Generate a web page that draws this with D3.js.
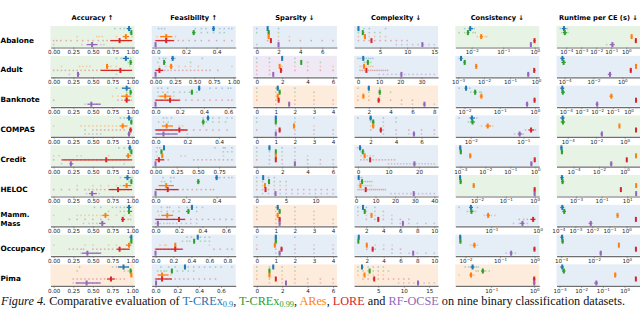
<!DOCTYPE html>
<html>
<head>
<meta charset="utf-8">
<script src="https://cdn.jsdelivr.net/npm/d3@7"></script>
<style>
  body { margin: 0; background: #fff; }
  svg { display: block; }
</style>
</head>
<body>
<svg id="chart" width="640" height="310"></svg>
<script>
// ---- data ----
const datasets = ["Abalone", "Adult", "Banknote", "COMPAS", "Credit", "HELOC", "Mamm.\nMass", "Occupancy", "Pima"];
const methods = ["T-CREx0.9", "T-CREx0.99", "ARes", "LORE", "RF-OCSE"];
const metricTitles = ["Accuracy \u2191", "Feasibility \u2191", "Sparsity \u2193", "Complexity \u2193", "Consistency \u2193", "Runtime per CE (s) \u2193"];
const metricLog = [false, false, false, false, true, true];

// each method entry: [mean, low, high, ...individual values]
const accuracy = [
  [[.96,.93,.99,.78,.85,.9], [.99,.98,1,.97], [.92,.88,.96,.3,.55,.58,.62,.8,1], [.84,.72,1,0,.04,.09,.16,.22,.3,.37,.44,.5,.57,.63,.68,.74,.79,.9,.95], [.49,.42,.56,0,.36,.6,.64]],
  [[.92,.88,.96,.8,.86,.98], [.98,.97,1,.95], [.68,.67,.7,.1,.33,.37,.42,.46,.73,.8,.97], [.85,.6,1,0,.05,.1,.15,.2,.25,.3,.35,.4,.45,.5,.55,.6,.65,.7,.75,.8,.9], [.31,.3,.33,.2,.8]],
  [[.93,.87,.98,.8,.88,.95], [.98,.97,1,.93], [.93,.86,.98,.75,.82,.99], [.93,.9,.97,0,.82,.87,.99], [.48,.43,.6,.4,.55]],
  [[.96,.93,.99,.85,.9,1], [.99,.98,1,.98], [.88,.84,.94,0,.35,.4,.45,.5,.55,.6,.65,.7,.75,.8], [.98,.96,1,.4,.5,.55,.6,.65,.7,.75,.8,.85,.9], [.96,.94,.98,.4,.45,.5,.55,.6]],
  [[.97,.95,.99,.83,.9], [.99,.98,1,.97], [.95,.92,.99,0,.07,.3,.35,.7], [.67,.1,1,0,.15,.2,.25,.3,.35,.4,.45,.5,.55,.6,.7,.75,.8,.85,.9], [.22,.2,.25,.1,.9]],
  [[.94,.9,.98,.85,1], [.99,.98,1,.96], [.93,.88,.99,.3,.5,.6,.7,.8,.85], [.82,.7,1,0,.1,.2,.3,.4,.45,.5,.55,.6,.65,.75,.85,.9,.95], [.49,.45,.55,.42,.58]],
  [[.96,.93,.99,.52,.6,.75,.8,.85,.9], [.96,.94,1,.7,.85,.9], [.66,.62,.7,0,.3,.35,.4,.45,.5,.55,.6,.7,.8,.9,.98], [.88,.86,.91,.2,.3,.4,.5,.6,.7,.95,.98], [.62,.58,.66,.38,.45,.5,.55]],
  [[.99,.97,1,.97], [.99,.98,1,.98], [.96,.92,.99,0,.4,.5,.7,.8], [.84,.8,.97,.2,.25,.3,.35,.38,.5,.55,.6,.65,.7,.75,.9], [.43,.36,.6,.35,.4,.5,.55,.6]],
  [[.89,.82,.96,.33,.75,.8,.85,.9,.95], [.98,.97,1,.3,.9,.95], [.99,.98,1,.98], [.73,.68,.78,.25,.3,.35,.4,.45,.5,.55,.6,.65,.8,.85,.9], [.42,.28,.6,.25,.3,.45,.5,.55]]
];
const feasibility = [
  [[.38,.37,.39,.02,.04,.06,.26,.3,.33,.42,.45,.48,.5], [.25,.24,.26,.26,.3,.34,.38,.42,.45], [.07,.03,.11,.01,.13], [.07,0,.12,0,.02,.04,.06,.09,.12,.15,.18,.22,.26,.3,.35,.4,.45,.5], [0,0,.005]],
  [[.22,.2,.24,.05,.1,.13,.25,.6], [.11,.1,.13,.03,.45], [.2,.18,.22,.05,.13,.3,.38,.45,.55,.98], [.05,0,.1,0,.04,.08,.12,.16,.2,.25,.3,.35,.4,.45,.5,.55,.6,.65,.7,.8], [0,0,.01]],
  [[.36,.35,.37,.02,.05,.1,.45,.5,.55,.6,.62], [.3,.29,.31,.02,.06,.1,.15,.2,.24,.28,.34], [.08,.03,.13,.02,.15], [.12,0,.2,0,.05,.1,.15,.2,.25,.3,.35,.4,.45,.5,.55,.6,.63], [0,0,.005]],
  [[.33,.32,.34,.05,.07,.1,.3,.36,.4,.45,.48], [.3,.29,.31,.02,.05,.08,.32,.36,.4,.44], [.07,.04,.11,.15,.17,.3], [.15,0,.2,0,.03,.06,.1,.13,.17,.2,.24,.28,.32,.36,.4,.45], [.05,0,.14,.02,.08,.12,.2]],
  [[.1,.09,.11,.02,.05,.7,.8,.82,.9], [.07,.06,.08,.01,.8,.85,.9], [.08,.07,.09,.02,.3,.35,.8], [.04,0,.1,0,.05,.1,.15,.45,.5,.55,.6,.65,.7,.75,.8,.85,.9], [0,0,.005]],
  [[.4,.39,.41,.05,.1,.12,.42,.45,.48,.5], [.28,.27,.29,.04,.06,.1], [.07,.02,.12], [.08,0,.15,0,.03,.06,.09,.12,.15,.18,.21,.24,.27,.3,.33,.36,.38], [0,0,.005]],
  [[.31,.3,.32,.05,.1,.12,.2,.27,.35,.4], [.28,.26,.29,.02,.05,.1,.15,.2,.35], [.1,.05,.15,.03,.12], [.2,0,.25,0,.05,.1,.15,.25,.3,.35,.4,.45,.5,.55,.6,.65], [.02,.01,.03,0,.04,.07,.1,.12,.15,.18,.22,.26,.3,.35]],
  [[.47,.46,.48,.35,.4,.5,.55,.6], [.43,.42,.44,.3,.35,.38,.5,.55,.6], [.22,.21,.23,.05,.1,.12,.6], [.22,0,.3,0,.03,.06,.1,.14,.18,.2,.25,.3,.65,.72,.8,.85], [0,0,.005]],
  [[.27,.26,.28,.05,.12,.18,.3,.35,.4,.45,.5,.55,.6,.7], [.15,.14,.16,.02,.05,.08,.1,.2,.25,.3,.35], [.06,.02,.12,.03,.14], [.06,0,.15,0,.03,.06,.1,.14,.18,.22,.26,.3,.35,.4,.45,.5,.55], [.005,0,.01]]
];
const sparsity = [
  [[1,.95,1.05,0,1,2], [1.1,1.05,1.15,0,1,2], [1.1,1.05,1.15,1,2,3], [1.3,1.25,1.35,1,2,3,4,5,6,7], [2,1.95,2.05,0,2]],
  [[2,1.95,2.05,0,1,2,3], [3.5,3.45,3.55,0,1,3,4,5], [1.8,1.75,1.85,0,1,2,3,4,5,6], [1.9,1.85,1.95,0,1,2,3,4,5,6], [1.3,1.25,1.35,0,1]],
  [[1.1,1.05,1.15,0,1,2], [1.2,1.15,1.25,0,1,2,3], [1.1,1.05,1.15,0,1,2,3], [1.15,1.1,1.2,0,1,2,3,4], [1.7,1.65,1.75,1,2,3,4]],
  [[1,.95,1.05,0,1,2,3], [1,.95,1.05,0,1,2], [1.95,1.9,2,1,2,3], [1.2,1.15,1.25,0,1,2,3,4], [1,.95,1.05,1,2,3,4]],
  [[1,.95,1.05,0,1,2,3], [1.5,1.45,1.55,0,1,2,3], [1.5,1.45,1.55,0,1,2,3,4], [1.5,1.45,1.55,0,1,2,3,4,5,6], [3,2.95,3.05,1,2,3,4,5,6]],
  [[1.1,1.05,1.15,0,1,2,3], [2.1,2.05,2.15,0,1,2,3,4,5], [1.4,1.35,1.45,0,1,2,3,4,5], [1.5,1.45,1.55,0,1,2,3,4,5,6,7,8,9,10,11,12,13], [3.2,3.15,3.25,1,2,3,4,5,6,7,8,9,10,11,12,13]],
  [[1.1,1.05,1.15,0,1,2], [1.2,1.15,1.25,0,1,2,3], [1.1,1.05,1.15,0,1,2,3], [1.2,1.15,1.25,0,1,2,3,4], [1.2,1.15,1.25,1,2,3,4]],
  [[1,.95,1.05,0,1,2], [1,.95,1.05,1], [.95,.9,1,0,1,2,3,4], [1.3,1.25,1.35,0,1,2,3,4], [1.2,1.15,1.25,1,2,3,4]],
  [[1.3,1.25,1.35,0,1,2,3], [1,.95,1.05,0,1,2,3], [1,.95,1.05,0,1,2,3], [1.5,1.45,1.55,0,1,2,3,4,5,6], [2.3,2.25,2.35,1,2,3,4,5,6]]
];
const complexity = [
  [[1,.9,1.1,1,2,3,6], [1.8,1.7,1.9,1,2,3,4,5], [2.2,2.1,2.3,1,2,3,4,5,6], [3.4,3.3,3.5,1,2,3,4,5,6,7,8,9,10], [12.8,12.7,12.9,8,9,10,11,12,13,14,15]],
  [[2.5,2.3,2.7,0,1,2,3,4,5,6,7], [4.7,4.5,4.9,3,4,5,6], [2.9,2.7,3.1,1,2,3,4,5,6,7], [4,3.8,4.2,1,2,3,4,5,6,7,8,9,10,11,12,13,14], [20.5,20.2,20.8,10,12,14,16,18,20,22,24,26,28,30,32,34,36]],
  [[2,1.9,2.1,1,2,3], [3,2.9,3.1,2,3,4], [1.5,1.4,1.6,1,2,3], [2.9,2.8,3,1,2,3,4,5,6], [7.1,7,7.2,5,6,7,8]],
  [[2,1.9,2.1,1,2,3,4], [2.2,2.1,2.3,2,3,4], [2.2,2.1,2.3,2,3], [2.8,2.7,2.9,2,3,4,5,6,7], [5.4,5.3,5.5,3,4,5,6,7]],
  [[.7,.6,.8,0,1], [1.6,1.5,1.7,1,2], [2.2,2.1,2.3,1,2,3,4,5], [4,3.8,4.2,1,2,3,4,5,6,7,8,9,10,11,12], [18.5,18.2,18.8,10,11,12,13,14,15,16,17,18,19,20,21,22,23,24,25]],
  [[1.4,1.3,1.5,1,2,3], [3.1,2.9,3.3,2,3,4,5,6,7,8], [2.3,2.1,2.5,1,2,3,4,5,6,7,8], [5,4.8,5.2,1,2,3,4,5,6,7,8,9,10,11,12,13,14,15], [29.5,29.2,29.8,18,20,22,24,26,28,30,32,34,36,38,40]],
  [[1.6,1.5,1.7,1,2,3], [1.8,1.7,1.9,1,2,3,4], [2.6,2.5,2.7,1,2,3,4,5], [3.4,3.3,3.5,2,3,4,5,6,7], [6.3,6.2,6.4,5,6,7,8,9,10]],
  [[1.05,1,1.1,1], [1,.95,1.05,1], [2,1.9,2.1,2,3,4,5], [2.7,2.6,2.8,2,3,4,5,6], [7.5,7.4,7.6,5,6,7,8,9,10]],
  [[1.8,1.7,1.9,1,2,3,4,5,6], [3.3,3.2,3.4,1,2,3,4,5,6,7], [2.3,2.2,2.4,1,2,3,4,5,6], [4.2,4.1,4.3,2,3,4,5,6,7,8,9,10,11], [12.8,12.7,12.9,9,10,11,12,13,14,15,16]]
];
const consistency = [
  [[.009,.008,.011,.006,.012], [.0076,.007,.0085,.004,.006,.011,.013], [.02,.018,.023,.015,.027,.03], [.98,.9,1.05], [.75,.7,.8]],
  [[.0013,.0012,.0015,.0011], [.0018,.0016,.002], [.005,.0045,.0055], [.85,.78,.95], [.5,.45,.55]],
  [[.011,.01,.012,.007,.014], [.02,.018,.022,.015,.027,.03], [.03,.027,.033], [.98,.92,1.04], [.6,.55,.65]],
  [[.0105,.0095,.012,.006,.013], [.0108,.0098,.012,.009], [.021,.019,.024,.016,.026], [.14,.125,.16,.11,.17], [.085,.078,.095,.068,.1]],
  [[.001,.0009,.0011], [.00105,.00095,.00115], [.0025,.0023,.0028], [.95,.88,1.02], [.7,.63,.77]],
  [[.0026,.0024,.0028], [.0027,.0025,.003], [.0077,.007,.0085], [1,.93,1.07], [1,.93,1.07]],
  [[.036,.033,.04,.02,.05], [.037,.034,.041,.03,.045], [.085,.078,.093,.07,.1,.12], [.8,.7,.9,.4,.5,.6], [.47,.42,.52,.3,.4,.6]],
  [[.007,.0065,.0075], [.0071,.0066,.0076], [.018,.016,.02,.014,.022], [1,.93,1.07], [.21,.19,.23,.15,.28]],
  [[.037,.033,.041,.025,.03,.045,.05], [.064,.058,.07,.045,.05,.075,.09], [.034,.031,.037,.018,.04], [1,.93,1.07], [1,.93,1.07]]
];
const runtime = [
  [[7e-5,5e-5,1e-4,4e-5,1.2e-4], [8e-5,6e-5,1.1e-4,5e-5,1.3e-4], [2.3,2,2.6], [4.4,3.8,5], [.12,.08,.17,.05]],
  [[7e-5,5e-5,1e-4], [8.5e-5,6e-5,1.2e-4], [9,8,10], [3.9,3.3,4.5], [.14,.1,.18]],
  [[6e-5,4.5e-5,8e-5], [6.5e-5,5e-5,9e-5], [.08,.06,.1], [3,2.7,3.3], [.01,.008,.012]],
  [[4.4e-5,3e-5,6e-5], [4.6e-5,3.2e-5,6.5e-5], [.43,.38,.48], [6.3,5.5,7], [.025,.02,.03]],
  [[1.1e-5,9e-6,1.4e-5], [1.2e-5,1e-5,1.5e-5], [8,7,9], [1.5,1.3,1.7], [.09,.07,.11]],
  [[8e-5,6e-5,1.1e-4], [9e-5,7e-5,1.2e-4], [50,45,55], [3.2,2.8,3.6], [50,45,55]],
  [[1.7e-4,1.3e-4,2.2e-4], [2.2e-4,1.7e-4,2.8e-4], [.3,.26,.35], [3.6,3.2,4], [.008,.006,.01]],
  [[1.15e-4,9e-5,1.4e-4], [1.25e-4,1e-4,1.5e-4], [.33,.3,.37], [3.6,3.2,4], [.026,.022,.03]],
  [[1.35e-3,1.1e-3,1.6e-3], [1.6e-3,1.3e-3,1.9e-3], [.37,.33,.42], [3.3,3,3.6], [.05,.04,.06]]
];

// best method per panel (index into methods), shades the panel
const bestAccuracy    = [1, 1, 1, 1, 1, 1, 1, 1, 2];
const bestFeasibility = [0, 0, 0, 0, 0, 0, 0, 0, 0];
const bestSparsity    = [0, 4, 2, 0, 0, 0, 2, 0, 2];
const bestComplexity  = [0, 0, 2, 0, 0, 0, 0, 0, 2];
const bestConsistency = [1, 0, 0, 0, 0, 1, 0, 0, 2];
const bestRuntime     = [1, 0, 0, 1, 1, 1, 0, 0, 0];

// tick labels (log metrics: powers of ten)
const accuracyTicks = [0, .25, .5, .75, 1];
const feasibilityTicks = [[0,.2,.4], [0,.25,.5,.75,1], [0,.2,.4,.6], [0,.2,.4], [0,.25,.5,.75], [0,.2,.4], [0,.2,.4,.6], [0,.2,.4,.6,.8], [0,.2,.4,.6]];
const sparsityTicks = [[0,2,4,6], [0,2,4,6], [0,1,2,3,4], [0,1,2,3,4], [0,2,4,6], [0,5,10], [0,1,2,3,4], [0,1,2,3,4], [0,2,4,6]];
const complexityTicks = [[5,10,15], [0,10,20,30], [2,4,6,8], [2,4,6], [0,10,20], [0,10,20,30,40], [2,4,6,8,10], [2,4,6,8,10], [5,10,15]];
const consistencyTicks = [[-2,-1,0], [-3,-2,-1,0], [-2,-1,0], [-2,-1], [-3,-2,-1,0], [-2,-1,0], [-1,0], [-2,-1,0], [-1,0]];
const runtimeTicks = [[-4,-3,-2,-1,0], [-4,-2,0], [-4,-3,-2,-1,0], [-4,-2,0], [-4,-2,0], [-3,-1,1], [-4,-3,-2,-1,0], [-4,-2,0], [-3,-2,-1,0]];

// ---- drawing ----
const methodColors = ["#1f77b4", "#2ca02c", "#ff7f0e", "#d62728", "#9467bd"];
const bgColors = ["#e5edf6", "#e7f3e5", "#fdecdc", "#f9e4e4", "#efe9f6"];

const metricData = [accuracy, feasibility, sparsity, complexity, consistency, runtime];
const metricBest = [bestAccuracy, bestFeasibility, bestSparsity, bestComplexity, bestConsistency, bestRuntime];
const metricTicks = [datasets.map(() => accuracyTicks), feasibilityTicks, sparsityTicks, complexityTicks, consistencyTicks, runtimeTicks];

const svg = d3.select("#chart");
const colX0 = 50.5, colStep = 101.2, panelW = 84;
const rowY0 = 26, rowStep = 29.8, panelH = 21;
const font = "DejaVu Sans, sans-serif";

metricTitles.forEach((t, c) => {
  svg.append("text")
    .attr("x", colX0 + c * colStep + panelW / 2)
    .attr("y", 20)
    .attr("text-anchor", "middle")
    .attr("font-family", font)
    .attr("font-weight", "bold")
    .attr("font-size", 6.7)
    .text(t);
});

datasets.forEach((name, r) => {
  const lines = name.split("\n");
  const yc = rowY0 + r * rowStep + 14;
  lines.forEach((ln, k) => {
    svg.append("text")
      .attr("x", 0.5)
      .attr("y", yc + 2.6 + (k - (lines.length - 1) / 2) * 8.4)
      .attr("font-family", font)
      .attr("font-weight", "bold")
      .attr("font-size", lines.length > 1 ? 7 : 7.3)
      .text(ln);
  });
});

metricData.forEach((rowsData, c) => {
  const isLog = metricLog[c];
  rowsData.forEach((entries, r) => {
    const x0 = colX0 + c * colStep, y0 = rowY0 + r * rowStep;
    const g = svg.append("g");

    // axis limits: data extent + 5% margins (accuracy is fixed to [0, 1])
    let x;
    if (c === 0) {
      x = d3.scaleLinear().domain([-0.04, 1.03]).range([x0, x0 + panelW]);
    } else if (isLog) {
      const ext = d3.extent(entries.flat().map(Math.log10));
      const pad = (ext[1] - ext[0]) * 0.05;
      x = d3.scaleLog().domain([10 ** (ext[0] - pad), 10 ** (ext[1] + pad)]).range([x0, x0 + panelW]);
    } else {
      const ext = d3.extent(entries.flat());
      const pad = (ext[1] - ext[0]) * 0.05;
      x = d3.scaleLinear().domain([ext[0] - pad, ext[1] + pad]).range([x0, x0 + panelW]);
    }

    g.append("rect")
      .attr("x", x0).attr("y", y0)
      .attr("width", panelW).attr("height", panelH)
      .attr("fill", bgColors[metricBest[c][r]]);

    entries.forEach((m, i) => {
      const y = y0 + 2.6 + i * 4;
      const col = methodColors[i];
      const pts = m.slice(3);
      g.selectAll(null).data(pts).enter().append("rect")
        .attr("x", d => x(d) - 0.75).attr("y", y - 0.75)
        .attr("width", 1.5).attr("height", 1.5)
        .attr("fill", col).attr("opacity", 0.35);
      g.append("line")
        .attr("x1", x(m[1])).attr("x2", x(m[2]))
        .attr("y1", y).attr("y2", y)
        .attr("stroke", col).attr("stroke-width", 1.3);
      g.append("rect")
        .attr("x", x(m[0]) - 1).attr("y", y - 2.5)
        .attr("width", 2).attr("height", 5)
        .attr("fill", col);
    });

    const ticks = metricTicks[c][r];
    let axis;
    if (isLog) {
      axis = d3.axisBottom(x).tickValues(ticks.map(e => 10 ** e)).tickFormat(() => "");
    } else {
      const step = ticks[1] - ticks[0];
      const fmt = step === 0.25 ? d3.format(".2f") : (step < 1 ? d3.format(".1f") : d3.format("d"));
      axis = d3.axisBottom(x).tickValues(ticks).tickFormat(fmt);
    }
    axis.tickSizeInner(2).tickSizeOuter(0).tickPadding(1);
    const ag = g.append("g")
      .attr("transform", `translate(0,${y0 + panelH + 0.5})`)
      .call(axis);
    ag.select(".domain").attr("stroke", "#6e6e6e").attr("stroke-width", 1.2);
    ag.selectAll(".tick line").attr("stroke", "#6e6e6e").attr("stroke-width", 0.6);
    ag.selectAll(".tick text")
      .attr("font-family", font)
      .attr("font-size", 5.6)
      .attr("fill", "#222");
    if (isLog) {
      ag.selectAll(".tick text").each(function(d, k) {
        const t = d3.select(this);
        t.append("tspan").text("10");
        t.append("tspan").attr("dy", -2.2).attr("font-size", 4).text("\u2212".repeat(ticks[k] < 0 ? 1 : 0) + Math.abs(ticks[k]));
      });
    }
  });
});

// caption
const cap = svg.append("text")
  .attr("x", 1).attr("y", 305)
  .attr("font-family", "Liberation Serif, serif")
  .attr("font-size", 13.4)
  .attr("fill", "#111");
cap.append("tspan").attr("font-style", "italic").text("Figure 4.");
cap.append("tspan").text(" Comparative evaluation of ");
const capNames = [["T-CREx", "0.9"], ["T-CREx", "0.99"], ["ARes", ""], ["LORE", ""], ["RF-OCSE", ""]];
const seps = [", ", ", ", ", ", " and ", " on nine binary classification datasets."];
capNames.forEach(([n, sub], i) => {
  cap.append("tspan").attr("fill", methodColors[i]).text(n);
  if (sub) {
    cap.append("tspan").attr("class", "sub").attr("fill", methodColors[i]).attr("dy", 2).text(sub);
    cap.append("tspan").attr("dy", -2).text(seps[i]);
  } else {
    cap.append("tspan").text(seps[i]);
  }
});
// shrink the caption so it fits the page width
const capSize = 13.4 * Math.min(1, 636 / cap.node().getComputedTextLength());
cap.attr("font-size", capSize);
cap.selectAll(".sub").attr("font-size", capSize * 0.68);
</script>
</body>
</html>
